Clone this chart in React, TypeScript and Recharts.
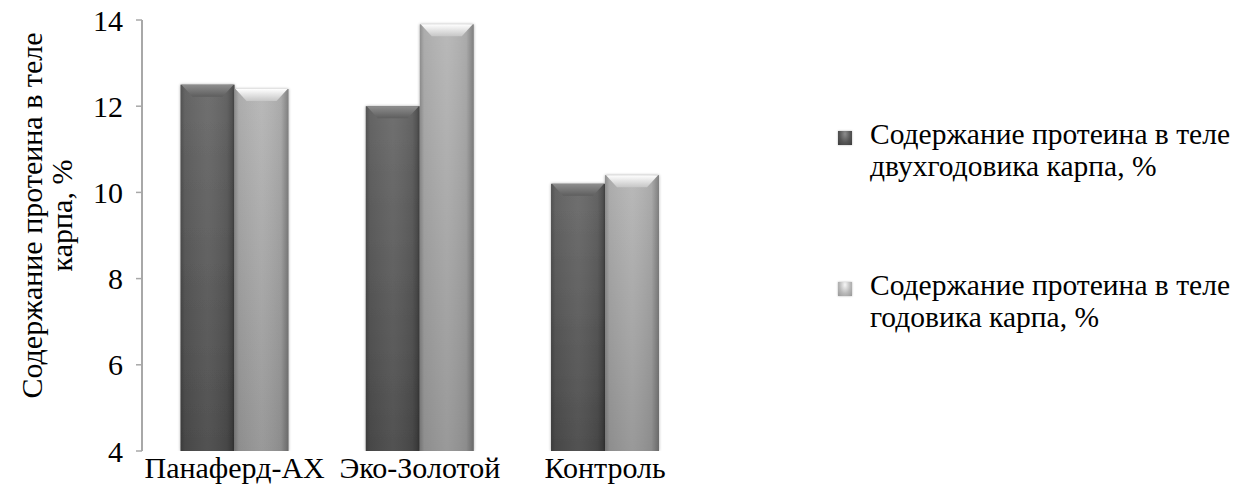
import React from 'react';
import { BarChart, Bar, XAxis, YAxis, Legend } from 'recharts';

const categories = ['Панаферд-АХ', 'Эко-Золотой', 'Контроль', ''];
const twoYearOld = [12.5, 12.0, 10.2, null];
const oneYearOld = [12.4, 13.9, 10.4, null];
const yTicks = [4, 6, 8, 10, 12, 14];
const boundaryTicks = [0, 1, 2, 3, 4];
const seriesNames = [
  ['Содержание протеина в теле', 'двухгодовика карпа, %'],
  ['Содержание протеина в теле', 'годовика карпа, %'],
];
const yLabelLines = ['Содержание протеина в теле', 'карпа, %'];

const data = categories.map((name, i) => ({
  name,
  two: twoYearOld[i],
  one: oneYearOld[i],
}));

const FONT = '"Liberation Serif", "Times New Roman", serif';

const makeShape = (kind: 'dark' | 'light') => (props: any) => {
  const { x, y, width, height } = props;
  if (height == null || height <= 0 || width <= 0) return <g />;
  const b = Math.min(12, height / 2, width / 3);
  return (
    <g>
      <rect x={x} y={y} width={width} height={height} fill={`url(#${kind}V)`} filter="url(#barShadow)" />
      <rect x={x} y={y} width={width} height={height} fill="url(#edgeH)" />
      <polygon
        points={`${x + 1},${y} ${x + width - 1},${y} ${x + width - b},${y + b} ${x + b},${y + b}`}
        fill={`url(#${kind}Top)`}
      />
    </g>
  );
};

const YLabel = (props: any) => {
  const vb = props.viewBox || { x: 0, y: 0, width: 0, height: 0 };
  const cy = vb.y + vb.height / 2 - 20;
  const xs = [31, 61];
  return (
    <g>
      {xs.map((xx, i) => (
        <text
          key={i}
          x={xx}
          y={cy}
          transform={`rotate(-90, ${xx}, ${cy})`}
          textAnchor="middle"
          dominantBaseline="central"
          fontFamily={FONT}
          fontSize={30}
          fill="#000"
        >
          {yLabelLines[i]}
        </text>
      ))}
    </g>
  );
};

const LegendMarker = ({ kind }: { kind: 'dark' | 'light' }) => {
  const base =
    kind === 'dark'
      ? 'radial-gradient(ellipse at 50% 20%, #8c8c8c 0%, #555 55%, #3c3c3c 100%)'
      : 'radial-gradient(ellipse at 50% 20%, #f6f6f6 0%, #b9b9b9 55%, #979797 100%)';
  return (
    <div
      style={{
        width: 14,
        height: 14,
        background: base,
        boxShadow: '0 0 2px rgba(0,0,0,0.3)',
        marginTop: 13,
        marginRight: 18,
        flex: '0 0 auto',
      }}
    />
  );
};

const CustomLegend = () => (
  <div style={{ fontFamily: FONT, fontSize: 29.5, lineHeight: '32px', color: '#000' }}>
    {seriesNames.map((lines, i) => (
      <div key={i} style={{ display: 'flex', alignItems: 'flex-start', marginBottom: i === 0 ? 87 : 0 }}>
        <LegendMarker kind={i === 0 ? 'dark' : 'light'} />
        <div>
          {lines.map((l, j) => (
            <div key={j} style={{ whiteSpace: 'nowrap' }}>
              {l}
            </div>
          ))}
        </div>
      </div>
    ))}
  </div>
);

export default function App() {
  return (
    <div
      style={{
        position: 'absolute',
        left: 0,
        top: 0,
        width: 1239,
        height: 484,
        background: '#fff',
        fontFamily: FONT,
      }}
    >
      <BarChart
        width={1239}
        height={484}
        data={data}
        margin={{ top: 20, right: 356, left: 0, bottom: 0 }}
        barCategoryGap="20.8%"
        barGap={0}
      >
        <defs>
          <filter id="barShadow" x="-20%" y="-10%" width="140%" height="120%">
            <feGaussianBlur in="SourceAlpha" stdDeviation="1.6" />
            <feComponentTransfer>
              <feFuncA type="linear" slope="0.35" />
            </feComponentTransfer>
            <feMerge>
              <feMergeNode />
              <feMergeNode in="SourceGraphic" />
            </feMerge>
          </filter>
          <linearGradient id="darkV" x1="0" y1="0" x2="0" y2="1">
            <stop offset="0%" stopColor="#6a6a6a" />
            <stop offset="100%" stopColor="#4b4b4b" />
          </linearGradient>
          <linearGradient id="lightV" x1="0" y1="0" x2="0" y2="1">
            <stop offset="0%" stopColor="#b6b6b6" />
            <stop offset="100%" stopColor="#959595" />
          </linearGradient>
          <linearGradient id="edgeH" x1="0" y1="0" x2="1" y2="0">
            <stop offset="0%" stopColor="#000" stopOpacity={0.22} />
            <stop offset="8%" stopColor="#000" stopOpacity={0.05} />
            <stop offset="50%" stopColor="#fff" stopOpacity={0.04} />
            <stop offset="86%" stopColor="#000" stopOpacity={0.06} />
            <stop offset="100%" stopColor="#000" stopOpacity={0.3} />
          </linearGradient>
          <linearGradient id="darkTop" x1="0" y1="0" x2="0" y2="1">
            <stop offset="0%" stopColor="#8e8e8e" />
            <stop offset="100%" stopColor="#5e5e5e" />
          </linearGradient>
          <linearGradient id="lightTop" x1="0" y1="0" x2="0" y2="1">
            <stop offset="0%" stopColor="#ffffff" />
            <stop offset="100%" stopColor="#c6c6c6" />
          </linearGradient>
        </defs>
        <XAxis
          xAxisId="grid"
          type="number"
          domain={[0, 4]}
          ticks={boundaryTicks}
          tick={false}
          height={0}
          tickSize={7}
          axisLine={{ stroke: '#a8a8a8', strokeWidth: 2 }}
          tickLine={{ stroke: '#a8a8a8', strokeWidth: 1.5 }}
          allowDataOverflow
        />
        <XAxis
          xAxisId="cat"
          dataKey="name"
          height={33}
          axisLine={false}
          tickLine={false}
          tickSize={6}
          tickMargin={0}
          interval={0}
          tick={{ fontFamily: FONT, fontSize: 30, fill: '#000' }}
        />
        <YAxis
          width={142}
          domain={[4, 14]}
          ticks={yTicks}
          interval={0}
          allowDataOverflow
          tickSize={6}
          tickMargin={13}
          axisLine={{ stroke: '#a8a8a8', strokeWidth: 2 }}
          tickLine={{ stroke: '#a8a8a8', strokeWidth: 1.5 }}
          tick={{ fontFamily: FONT, fontSize: 30, fill: '#000' }}
          label={<YLabel />}
        />
        <Legend
          layout="vertical"
          align="center"
          verticalAlign="middle"
          content={<CustomLegend />}
          wrapperStyle={{ left: 838, top: 118, width: 401 }}
        />
        <Bar dataKey="two" xAxisId="cat" name={seriesNames[0].join(' ')} fill="#5a5a5a" shape={makeShape('dark')} isAnimationActive={false} />
        <Bar dataKey="one" xAxisId="cat" name={seriesNames[1].join(' ')} fill="#a8a8a8" shape={makeShape('light')} isAnimationActive={false} />
      </BarChart>
    </div>
  );
}
